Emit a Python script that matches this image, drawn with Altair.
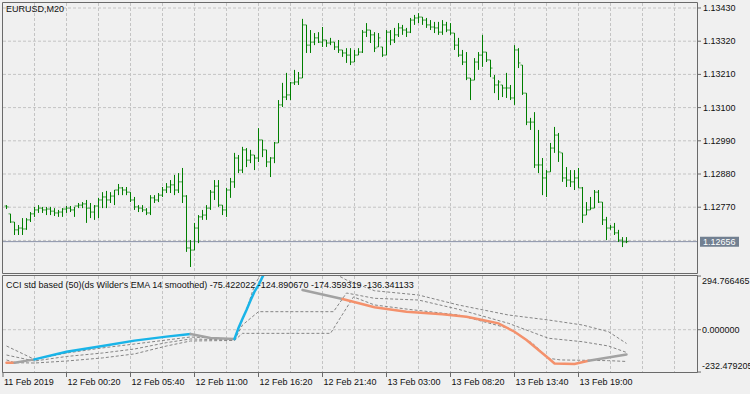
import altair as alt
import pandas as pd

# ---------------- price bars (EURUSD, M20) ----------------
bar_high = [1.12777, 1.12748, 1.12721, 1.12711, 1.12734, 1.12734, 1.12754, 1.12771, 1.12777, 1.12771,
            1.12771, 1.12771, 1.12767, 1.12761, 1.12767, 1.12774, 1.12774, 1.12771, 1.12784, 1.12787,
            1.12794, 1.12784, 1.12777, 1.12801, 1.12820, 1.12824, 1.12820, 1.12827, 1.12847, 1.12837,
            1.12837, 1.12820, 1.12804, 1.12777, 1.12777, 1.12767, 1.12810, 1.12810, 1.12817, 1.12837,
            1.12850, 1.12860, 1.12877, 1.12883, 1.12900, 1.12810, 1.12661, 1.12718, 1.12744, 1.12761,
            1.12777, 1.12827, 1.12860, 1.12860, 1.12777, 1.12834, 1.12867, 1.12950, 1.12943, 1.12970,
            1.12966, 1.12960, 1.12943, 1.13032, 1.12993, 1.12960, 1.12936, 1.12986, 1.13125, 1.13182,
            1.13215, 1.13185, 1.13225, 1.13218, 1.13394, 1.13374, 1.13357, 1.13347, 1.13350, 1.13367,
            1.13324, 1.13331, 1.13317, 1.13324, 1.13291, 1.13297, 1.13297, 1.13291, 1.13297, 1.13357,
            1.13380, 1.13357, 1.13350, 1.13347, 1.13301, 1.13357, 1.13357, 1.13364, 1.13380, 1.13374,
            1.13364, 1.13397, 1.13407, 1.13413, 1.13400, 1.13397, 1.13390, 1.13384, 1.13384, 1.13390,
            1.13384, 1.13380, 1.13347, 1.13331, 1.13291, 1.13284, 1.13198, 1.13264, 1.13284, 1.13341,
            1.13284, 1.13258, 1.13208, 1.13191, 1.13175, 1.13215, 1.13175, 1.13307, 1.13297, 1.13241,
            1.13148, 1.13066, 1.13085, 1.13026, 1.12933, 1.12893, 1.12983, 1.13036, 1.13016, 1.12950,
            1.12903, 1.12893, 1.12893, 1.12900, 1.12837, 1.12787, 1.12804, 1.12827, 1.12827, 1.12787,
            1.12738, 1.12711, 1.12718, 1.12695, 1.12671, 1.12671]
bar_low = [1.12764, 1.12718, 1.12678, 1.12678, 1.12678, 1.12695, 1.12721, 1.12738, 1.12751, 1.12751,
           1.12744, 1.12744, 1.12741, 1.12738, 1.12738, 1.12751, 1.12754, 1.12738, 1.12767, 1.12767,
           1.12718, 1.12734, 1.12728, 1.12734, 1.12767, 1.12767, 1.12784, 1.12777, 1.12810, 1.12810,
           1.12810, 1.12787, 1.12761, 1.12754, 1.12754, 1.12744, 1.12744, 1.12784, 1.12787, 1.12804,
           1.12817, 1.12817, 1.12810, 1.12817, 1.12784, 1.12622, 1.12572, 1.12628, 1.12651, 1.12728,
           1.12728, 1.12761, 1.12794, 1.12771, 1.12744, 1.12738, 1.12801, 1.12834, 1.12883, 1.12883,
           1.12903, 1.12916, 1.12893, 1.12920, 1.12936, 1.12903, 1.12870, 1.12916, 1.12983, 1.13102,
           1.13125, 1.13125, 1.13175, 1.13175, 1.13198, 1.13281, 1.13281, 1.13307, 1.13314, 1.13301,
           1.13301, 1.13307, 1.13291, 1.13281, 1.13268, 1.13248, 1.13241, 1.13251, 1.13274, 1.13281,
           1.13334, 1.13314, 1.13284, 1.13301, 1.13268, 1.13274, 1.13307, 1.13314, 1.13334, 1.13341,
           1.13334, 1.13347, 1.13374, 1.13380, 1.13374, 1.13364, 1.13357, 1.13347, 1.13341, 1.13341,
           1.13350, 1.13341, 1.13291, 1.13268, 1.13241, 1.13191, 1.13125, 1.13191, 1.13225, 1.13235,
           1.13251, 1.13201, 1.13148, 1.13125, 1.13135, 1.13132, 1.13125, 1.13109, 1.13231, 1.13142,
           1.13042, 1.13026, 1.12900, 1.12883, 1.12810, 1.12804, 1.12887, 1.12950, 1.12920, 1.12854,
           1.12837, 1.12837, 1.12827, 1.12834, 1.12718, 1.12744, 1.12761, 1.12767, 1.12784, 1.12711,
           1.12661, 1.12695, 1.12678, 1.12655, 1.12638, 1.12651]
bar_open = [1.12774, 1.12748, 1.12721, 1.12695, 1.12701, 1.12698, 1.12728, 1.12748, 1.12761, 1.12767,
            1.12761, 1.12764, 1.12757, 1.12751, 1.12754, 1.12764, 1.12767, 1.12761, 1.12774, 1.12777,
            1.12781, 1.12767, 1.12754, 1.12774, 1.12794, 1.12804, 1.12794, 1.12807, 1.12827, 1.12834,
            1.12827, 1.12820, 1.12794, 1.12771, 1.12767, 1.12761, 1.12751, 1.12801, 1.12794, 1.12810,
            1.12827, 1.12837, 1.12844, 1.12827, 1.12854, 1.12807, 1.12635, 1.12628, 1.12701, 1.12738,
            1.12744, 1.12767, 1.12820, 1.12840, 1.12777, 1.12761, 1.12827, 1.12854, 1.12933, 1.12893,
            1.12960, 1.12926, 1.12943, 1.12933, 1.12993, 1.12960, 1.12920, 1.12933, 1.12983, 1.13109,
            1.13135, 1.13142, 1.13182, 1.13185, 1.13198, 1.13374, 1.13307, 1.13317, 1.13331, 1.13317,
            1.13324, 1.13314, 1.13317, 1.13301, 1.13291, 1.13281, 1.13274, 1.13251, 1.13274, 1.13284,
            1.13350, 1.13357, 1.13341, 1.13301, 1.13301, 1.13274, 1.13350, 1.13324, 1.13341, 1.13364,
            1.13357, 1.13350, 1.13390, 1.13397, 1.13400, 1.13390, 1.13374, 1.13367, 1.13364, 1.13350,
            1.13374, 1.13357, 1.13347, 1.13307, 1.13274, 1.13251, 1.13198, 1.13191, 1.13251, 1.13274,
            1.13284, 1.13258, 1.13198, 1.13175, 1.13175, 1.13165, 1.13165, 1.13132, 1.13291, 1.13241,
            1.13148, 1.13052, 1.13052, 1.12910, 1.12910, 1.12867, 1.12887, 1.12966, 1.13009, 1.12950,
            1.12867, 1.12860, 1.12854, 1.12867, 1.12834, 1.12744, 1.12761, 1.12767, 1.12820, 1.12787,
            1.12728, 1.12701, 1.12704, 1.12685, 1.12661, 1.12655]
bar_close = [1.12771, 1.12721, 1.12695, 1.12701, 1.12698, 1.12728, 1.12748, 1.12761, 1.12767, 1.12761,
             1.12764, 1.12757, 1.12751, 1.12754, 1.12764, 1.12767, 1.12761, 1.12774, 1.12777, 1.12781,
             1.12767, 1.12754, 1.12774, 1.12794, 1.12804, 1.12794, 1.12807, 1.12827, 1.12834, 1.12827,
             1.12820, 1.12794, 1.12771, 1.12767, 1.12761, 1.12751, 1.12801, 1.12794, 1.12810, 1.12827,
             1.12837, 1.12844, 1.12827, 1.12854, 1.12807, 1.12635, 1.12628, 1.12701, 1.12738, 1.12744,
             1.12767, 1.12820, 1.12840, 1.12777, 1.12761, 1.12827, 1.12854, 1.12933, 1.12893, 1.12960,
             1.12926, 1.12943, 1.12933, 1.12993, 1.12960, 1.12920, 1.12933, 1.12983, 1.13109, 1.13135,
             1.13142, 1.13182, 1.13185, 1.13198, 1.13374, 1.13307, 1.13317, 1.13331, 1.13317, 1.13324,
             1.13314, 1.13317, 1.13301, 1.13291, 1.13281, 1.13274, 1.13251, 1.13274, 1.13284, 1.13350,
             1.13357, 1.13341, 1.13297, 1.13331, 1.13274, 1.13350, 1.13324, 1.13341, 1.13364, 1.13357,
             1.13350, 1.13390, 1.13397, 1.13400, 1.13390, 1.13374, 1.13367, 1.13364, 1.13350, 1.13374,
             1.13357, 1.13347, 1.13307, 1.13274, 1.13251, 1.13198, 1.13191, 1.13251, 1.13274, 1.13284,
             1.13258, 1.13231, 1.13175, 1.13185, 1.13165, 1.13165, 1.13132, 1.13291, 1.13248, 1.13148,
             1.13052, 1.13052, 1.12910, 1.12910, 1.12867, 1.12887, 1.12966, 1.13009, 1.12953, 1.12867,
             1.12860, 1.12854, 1.12867, 1.12834, 1.12744, 1.12761, 1.12767, 1.12820, 1.12787, 1.12728,
             1.12701, 1.12704, 1.12685, 1.12661, 1.12655, 1.12656]
current_price = 1.12656

price_ticks = [1.13430, 1.13320, 1.13210, 1.13100, 1.12990, 1.12880, 1.12770]
price_grid = [1.13430, 1.13320, 1.13210, 1.13100, 1.12990, 1.12880, 1.12770, 1.12660]

date_bars = [-0.875, 15, 31, 47, 63, 79, 95, 111, 127, 143]
date_labels = ["11 Feb 2019", "12 Feb 00:20", "12 Feb 05:40", "12 Feb 11:00", "12 Feb 16:20",
               "12 Feb 21:40", "13 Feb 03:00", "13 Feb 08:20", "13 Feb 13:40", "13 Feb 19:00"]
grid_bars = [7, 15, 23, 31, 39, 47, 55, 63, 71, 79, 87, 95, 103, 111, 119, 127, 135, 143, 151, 159, 167]

# ---------------- CCI indicator ----------------
cci_bar = [0, 2, 7, 15, 24, 32, 40, 46, 51, 57, 58, 59, 60, 61, 62, 63, 64, 65,
           74, 84, 92, 100, 109, 115, 119, 123, 127, 130, 133, 135.5, 137, 142, 145.5, 155]
cci_val = [-181, -181, -163, -121, -90, -60, -38, -24, -46, -51, 10, 60, 108, 160, 209, 245, 290, 335,
           218, 169, 123, 99, 85, 71, 53, 35, -11, -57, -111, -157, -185, -188, -170, -136.341133]
# colour state of each run of the line ("off" = above the window, not visible)
cci_seg_end = [2, 7, 46, 57, 65, 74, 84, 145.5, 155]
cci_seg_state = ["down", "flat", "up", "flat", "up", "off", "flat", "down", "flat"]

up_bar = [0, 7, 15, 24, 32, 40, 46, 57, 60, 62, 64, 81, 85, 92, 103, 113, 125.5, 135.5, 144, 150.5, 155]
up_val = [-89.5, -163, -128, -100, -78.5, -56.6, -40, -51, 108, 245, 320, 320, 273, 214, 190.6,
          135.7, 80.7, 53.3, 25.8, -11, -75.422022]
mid_bar = [0, 7, 15, 24, 32, 40, 46, 57, 59, 63, 81.75, 85, 92, 103, 113, 125.5, 135.5, 144, 150.5, 155]
mid_val = [-139, -172, -147, -128, -106, -71, -51, -56.6, 26, 99, 99, 201.5, 172.4, 163, 112, 35, -47,
           -66, -89.5, -124.89067]
low_bar = [0, 2, 7, 15, 24, 32, 40, 46, 57, 59, 81, 86.75, 92, 100.5, 113, 125.5, 131.5, 135.5, 138.5,
           150.5, 155]
low_val = [-166, -181, -183, -172, -155, -133, -89.5, -62, -59, -20, -20, 180, 136, 112, 80.7, 7.7,
           -74.7, -157, -166, -170, -174.359319]

ind_top, ind_zero, ind_bottom = 294.766465, 0.0, -232.479205
ind_title = "CCI std based (50)(ds Wilder's EMA 14 smoothed) -75.422022 -124.890670 -174.359319 -136.341133"

# ---------------- build tables ----------------
n = len(bar_high)
bars = pd.DataFrame({"bar": list(range(n)), "high": bar_high, "low": bar_low,
                     "open": bar_open, "close": bar_close})

seg_rows = []
start = cci_bar[0]
for k, (end, state) in enumerate(zip(cci_seg_end, cci_seg_state)):
    if state != "off":
        for b, v in zip(cci_bar, cci_val):
            if start <= b <= end:
                seg_rows.append({"bar": b, "val": v, "seg": k, "state": state})
    start = end
cci = pd.DataFrame(seg_rows)

bands = pd.concat([
    pd.DataFrame({"bar": up_bar, "val": up_val, "band": "up"}),
    pd.DataFrame({"bar": mid_bar, "val": mid_val, "band": "mid"}),
    pd.DataFrame({"bar": low_bar, "val": low_val, "band": "low"}),
])

FONT = "Liberation Sans"
FS = 9
BG = "#f0f0f0"
GRID = "#c4c4c4"
BORDER = "#6a6a6a"
GREEN = "#007f00"
TXT = "#101010"

xs = alt.Scale(domain=[-1.625, 185.875], nice=False, zero=False)
ps = alt.Scale(domain=[1.121512, 1.134565], nice=False, zero=False)
isc = alt.Scale(domain=[-353.1, 1810.7], nice=False, zero=False)

X = lambda f="bar": alt.X(f"{f}:Q", scale=xs, axis=None)
PY = lambda f: alt.Y(f"{f}:Q", scale=ps, axis=None)
IY = lambda f: alt.Y(f"{f}:Q", scale=isc, axis=None)

one = pd.DataFrame({"a": [0]})
layers = []

# ---- indicator window ----
gdf = pd.DataFrame({"bar": grid_bars})
layers.append(alt.Chart(gdf).mark_rule(color=GRID, strokeDash=[3, 2], strokeWidth=1).encode(
    x=X(), y=alt.value(276), y2=alt.value(372)))
zg = pd.DataFrame({"v": [ind_zero]})
layers.append(alt.Chart(zg).mark_rule(color=GRID, strokeDash=[3, 2], strokeWidth=1).encode(
    y=IY("v"), x=alt.value(3), x2=alt.value(697)))
layers.append(alt.Chart(bands).mark_line(color="#858585", strokeDash=[3, 2], strokeWidth=1).encode(
    x=X(), y=IY("val"), detail="band:N", order="bar:Q"))
layers.append(alt.Chart(cci).mark_line(strokeWidth=2.5, strokeCap="round").encode(
    x=X(), y=IY("val"), detail="seg:N", order="bar:Q",
    color=alt.Color("state:N", scale=alt.Scale(domain=["up", "down", "flat"],
                                               range=["#19b4e8", "#f4916c", "#a2a2a2"]), legend=None)))
# hide anything of the indicator above its window
layers.append(alt.Chart(one).mark_rect(fill=BG, stroke=None).encode(
    x=alt.value(0), x2=alt.value(750), y=alt.value(0), y2=alt.value(275.5)))

# ---- main window ----
layers.append(alt.Chart(gdf).mark_rule(color=GRID, strokeDash=[3, 2], strokeWidth=1).encode(
    x=X(), y=alt.value(3), y2=alt.value(273)))
pg = pd.DataFrame({"p": price_grid})
layers.append(alt.Chart(pg).mark_rule(color=GRID, strokeDash=[3, 2], strokeWidth=1).encode(
    y=PY("p"), x=alt.value(3), x2=alt.value(697)))
cp = pd.DataFrame({"p": [current_price], "t": [f"{current_price:.5f}"]})
layers.append(alt.Chart(cp).mark_rule(color="#8a92a8", strokeWidth=1).encode(
    y=PY("p"), x=alt.value(3), x2=alt.value(697)))

layers.append(alt.Chart(bars).mark_rule(color=GREEN, strokeWidth=1).encode(
    x=X(), y=PY("high"), y2="low:Q"))
layers.append(alt.Chart(bars).mark_tick(color=GREEN, orient="horizontal", size=2, thickness=1, xOffset=-1).encode(
    x=X(), y=PY("open")))
layers.append(alt.Chart(bars).mark_tick(color=GREEN, orient="horizontal", size=2, thickness=1, xOffset=1).encode(
    x=X(), y=PY("close")))

# panel borders
layers.append(alt.Chart(one).mark_rect(fill=None, stroke=BORDER, strokeWidth=1).encode(
    x=alt.value(2.5), x2=alt.value(697.5), y=alt.value(2.5), y2=alt.value(273.5)))
layers.append(alt.Chart(one).mark_rect(fill=None, stroke=BORDER, strokeWidth=1).encode(
    x=alt.value(2.5), x2=alt.value(697.5), y=alt.value(275.5), y2=alt.value(372.5)))

# price axis ticks + labels
pt = pd.DataFrame({"p": price_ticks, "t": [f"{v:.5f}" for v in price_ticks]})
layers.append(alt.Chart(pt).mark_rule(color=BORDER).encode(
    y=PY("p"), x=alt.value(697), x2=alt.value(701)))
layers.append(alt.Chart(pt).mark_text(font=FONT, fontSize=FS, align="left", baseline="middle", color=TXT).encode(
    y=PY("p"), x=alt.value(703), text="t:N"))

# current price box
layers.append(alt.Chart(cp).mark_rule(color="#728091", strokeWidth=10, strokeCap="butt").encode(
    y=PY("p"), x=alt.value(700), x2=alt.value(739)))
layers.append(alt.Chart(cp).mark_text(font=FONT, fontSize=FS, align="left", baseline="middle", color="white").encode(
    y=PY("p"), x=alt.value(703), text="t:N"))

# indicator axis ticks + labels
it = pd.DataFrame({"v": [ind_top, ind_zero, ind_bottom],
                   "t": [f"{ind_top:.6f}", f"{ind_zero:.6f}", f"{ind_bottom:.6f}"]})
layers.append(alt.Chart(it).mark_rule(color=BORDER).encode(
    y=IY("v"), x=alt.value(697), x2=alt.value(701)))
layers.append(alt.Chart(it.iloc[[0]]).mark_text(font=FONT, fontSize=FS, align="left", baseline="top", dy=1, color=TXT).encode(
    y=IY("v"), x=alt.value(702), text="t:N"))
layers.append(alt.Chart(it.iloc[[1]]).mark_text(font=FONT, fontSize=FS, align="left", baseline="middle", color=TXT).encode(
    y=IY("v"), x=alt.value(702), text="t:N"))
layers.append(alt.Chart(it.iloc[[2]]).mark_text(font=FONT, fontSize=FS, align="left", baseline="bottom", dy=-1, color=TXT).encode(
    y=IY("v"), x=alt.value(702), text="t:N"))

# time axis
dd = pd.DataFrame({"bar": date_bars, "t": date_labels})
layers.append(alt.Chart(dd).mark_rule(color=BORDER).encode(
    x=X(), y=alt.value(372), y2=alt.value(377)))
layers.append(alt.Chart(dd).mark_text(font=FONT, fontSize=FS, align="left", baseline="middle", dx=1, color=TXT).encode(
    x=X(), y=alt.value(382), text="t:N"))

# titles
tt = pd.DataFrame({"t": ["EURUSD,M20"]})
layers.append(alt.Chart(tt).mark_text(font=FONT, fontSize=FS, align="left", baseline="middle", color=TXT).encode(
    x=alt.value(6), y=alt.value(9), text="t:N"))
it2 = pd.DataFrame({"t": [ind_title]})
layers.append(alt.Chart(it2).mark_text(font=FONT, fontSize=FS, align="left", baseline="middle", color=TXT).encode(
    x=alt.value(6), y=alt.value(285), text="t:N"))

chart = alt.layer(*layers).resolve_scale(y="independent").properties(
    width=750, height=394, autosize=alt.AutoSizeParams(type="none"), padding=0,
    background=BG
).configure_view(strokeWidth=0)

chart.save("out.html", embed_options={"renderer": "svg", "actions": False})
